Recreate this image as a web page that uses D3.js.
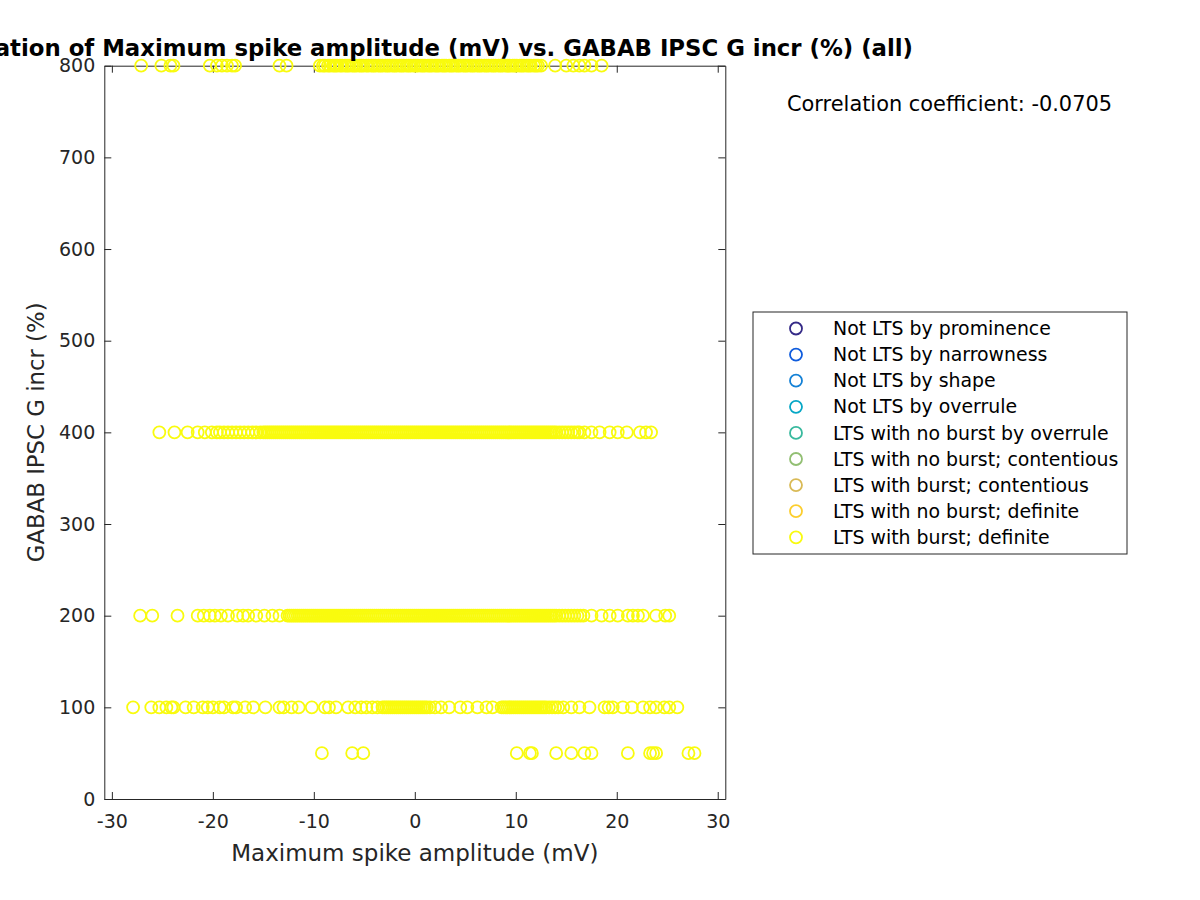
<!DOCTYPE html>
<html><head><meta charset="utf-8">
<script src="https://cdn.jsdelivr.net/npm/d3@7"></script>
<style>body{margin:0;background:#fff}svg{display:block}text{font-family:"DejaVu Sans",sans-serif}</style>
</head><body>
<svg id="c" width="1200" height="900"></svg>
<script>
// ---- data ----
const xTicks = [-30, -20, -10, 0, 10, 20, 30];
const yTicks = [0, 100, 200, 300, 400, 500, 600, 700, 800];
const categories = ["Not LTS by prominence","Not LTS by narrowness","Not LTS by shape","Not LTS by overrule",
  "LTS with no burst by overrule","LTS with no burst; contentious","LTS with burst; contentious",
  "LTS with no burst; definite","LTS with burst; definite"];
const categoryColors = ["#352a87","#0f5cdd","#1481d6","#06a7c6","#38b99e","#92bf73","#d9ba56","#fcce2e","#f9fb0e"];
const yLevels = [800, 400, 200, 100, 50];
const xAt800 = [-27.1,-25.1,-24.2,-23.9,-20.3,-19.6,-19.1,-18.6,-18.1,-17.8,-13.4,-12.7,
 -9.4,-9.1,-8.9,-8.6,-8.4,-8.1,-7.9,-7.7,-7.4,-7.2,-6.9,-6.7,-6.5,-6.2,-6.0,-5.8,-5.5,-5.3,-5.1,-4.8,-4.6,-4.3,-4.1,-3.9,
 -3.6,-3.4,-3.2,-2.9,-2.7,-2.5,-2.2,-2.0,-1.8,-1.5,-1.3,-1.1,-0.8,-0.6,-0.4,-0.1,0.1,0.3,0.6,0.8,1.0,1.3,1.5,1.7,2.0,2.2,
 2.4,2.7,2.9,3.1,3.4,3.6,3.8,4.1,4.3,4.5,4.8,5.0,5.2,5.5,5.7,5.9,6.2,6.4,6.6,6.9,7.1,7.3,7.6,7.8,8.0,8.3,8.5,8.7,9.0,9.2,
 9.4,9.7,9.9,10.1,10.4,10.6,10.8,11.1,11.3,11.5,11.8,12.0,12.2,12.5,
 13.9,15.0,15.7,16.3,16.8,17.5,18.5];
const xAt400 = [-25.3,-23.8,-22.5,-21.5,-20.8,-20.1,-19.6,
 -19.3,-18.9,-18.5,-18.1,-17.7,-17.3,-16.9,-16.5,-16.1,-15.7,-15.3,-15.0,-14.8,-14.6,-14.4,-14.2,-14.0,-13.8,-13.6,-13.4,
 -13.2,-13.0,-12.8,-12.6,-12.4,-12.2,-12.0,-11.8,-11.6,-11.4,-11.2,-11.0,-10.8,-10.6,-10.4,-10.2,-10.0,-9.8,-9.6,-9.4,-9.2,
 -9.0,-8.8,-8.6,-8.4,-8.2,-8.0,-7.8,-7.6,-7.4,-7.2,-7.0,-6.8,-6.6,-6.4,-6.2,-6.0,-5.8,-5.6,-5.4,-5.2,-5.0,-4.8,-4.6,-4.4,
 -4.2,-4.0,-3.8,-3.6,-3.4,-3.2,-3.0,-2.8,-2.6,-2.4,-2.2,-2.0,-1.8,-1.6,-1.4,-1.2,-1.0,-0.8,-0.6,-0.4,-0.2,0.0,0.2,0.4,0.6,
 0.8,1.0,1.2,1.4,1.6,1.8,2.0,2.2,2.4,2.6,2.8,3.0,3.2,3.4,3.6,3.8,4.0,4.2,4.4,4.6,4.8,5.0,5.2,5.4,5.6,5.8,6.0,6.2,6.4,6.6,
 6.8,7.0,7.2,7.4,7.6,7.8,8.0,8.2,8.4,8.6,8.8,9.0,9.2,9.4,9.6,9.8,10.0,10.2,10.4,10.6,10.8,11.0,11.2,11.4,11.6,11.8,12.0,
 12.2,12.4,12.6,12.8,13.0,13.2,13.4,13.6,13.8,14.0,14.3,14.6,14.9,15.2,15.5,15.8,16.1,16.3,
 16.8,17.5,18.3,19.3,20.1,21.0,22.3,22.9,23.4];
const xAt200 = [-27.2,-26.0,-23.5,-21.5,-20.9,-20.3,-19.8,-19.2,-18.5,-17.6,-17.0,-16.5,-15.7,-14.9,-14.1,-13.4,
 -12.6,-12.4,-12.2,-12.0,-11.8,-11.6,-11.4,-11.2,-11.0,-10.8,-10.6,-10.4,-10.2,-10.0,-9.8,-9.6,-9.4,-9.2,-9.0,-8.8,-8.6,
 -8.4,-8.2,-8.0,-7.8,-7.6,-7.4,-7.2,-7.0,-6.8,-6.6,-6.4,-6.2,-6.0,-5.8,-5.6,-5.4,-5.2,-5.0,-4.8,-4.6,-4.4,-4.2,-4.0,-3.8,
 -3.6,-3.4,-3.2,-3.0,-2.8,-2.6,-2.4,-2.2,-2.0,-1.8,-1.6,-1.4,-1.2,-1.0,-0.8,-0.6,-0.4,-0.2,0.0,0.2,0.4,0.6,0.8,1.0,1.2,
 1.4,1.6,1.8,2.0,2.2,2.4,2.6,2.8,3.0,3.2,3.4,3.6,3.8,4.0,4.2,4.4,4.6,4.8,5.0,5.2,5.4,5.6,5.8,6.0,6.2,6.4,6.6,6.8,7.0,7.2,
 7.4,7.6,7.8,8.0,8.2,8.4,8.6,8.8,9.0,9.2,9.4,9.6,9.8,10.0,10.2,10.4,10.6,10.8,11.0,11.2,11.4,11.6,11.8,12.0,12.2,12.4,
 12.6,12.8,13.0,13.2,13.4,13.6,13.8,14.0,14.3,14.6,14.9,15.2,15.5,15.8,16.1,16.4,16.7,
 17.5,18.5,19.3,20.1,21.1,21.6,22.1,22.6,23.9,24.8,25.2];
const xAt100 = [-27.9,-26.1,-25.3,-24.6,-24.1,-23.9,-22.7,-21.9,-21.0,-20.5,-20.0,-19.3,-18.9,-18.0,-17.7,-16.8,-16.0,
 -14.8,-13.4,-13.0,-12.2,-11.5,-10.2,-8.9,-8.5,-7.8,-6.6,-5.9,-5.3,-4.8,-4.2,-3.7,
 -3.2,-3.0,-2.8,-2.6,-2.4,-2.2,-2.0,-1.8,-1.6,-1.4,-1.2,-1.0,-0.8,-0.6,-0.4,-0.2,0.0,0.2,0.4,0.6,0.8,1.0,1.2,1.5,
 2.0,2.6,3.4,4.5,5.2,6.2,7.1,7.7,
 8.6,8.8,9.0,9.2,9.4,9.6,9.8,10.0,10.2,10.4,10.6,10.8,11.0,11.2,11.4,11.6,11.8,12.0,12.2,12.4,12.6,12.8,13.0,13.3,13.6,
 13.9,14.2,14.7,15.5,16.3,17.3,18.8,19.2,19.6,20.6,21.5,22.6,23.3,23.9,24.7,25.2,26.0];
const xAt50 = [-9.2,-6.2,-5.1,10.1,11.4,11.6,14.0,15.5,16.8,17.5,21.1,23.3,23.6,23.9,27.1,27.7];
const corrText = "Correlation coefficient: -0.0705";

// ---- build ----
const rows = [xAt800, xAt400, xAt200, xAt100, xAt50];
const points = [];
rows.forEach((xs, i) => xs.forEach(v => points.push({x: v, y: yLevels[i]})));

const svg = d3.select("#c");
svg.append("rect").attr("width",1200).attr("height",900).attr("fill","#fff");
const L = 104.3, R = 725.3, T = 65.7, B = 799;
const x = d3.scaleLinear().domain([-30.75, 30.75]).range([L, R]);
const y = d3.scaleLinear().domain([0, 800]).range([B, T]);
const axCol = "#262626";
const tl = 7;
const fmt = d => String(d);

svg.append("rect").attr("x",L).attr("y",T).attr("width",R-L).attr("height",B-T).attr("fill","#fff");

function styleAxis(g, showLabels) {
  g.selectAll("path.domain").attr("stroke", axCol).attr("stroke-width",1);
  g.selectAll(".tick line").attr("stroke", axCol).attr("stroke-width",1);
  g.selectAll(".tick text").attr("fill", axCol).style("font-size","19px").style("font-family","DejaVu Sans");
  if (!showLabels) g.selectAll(".tick text").remove();
}
const gB = svg.append("g").attr("transform",`translate(0,${B})`)
  .call(d3.axisBottom(x).tickValues(xTicks).tickSize(-tl).tickSizeOuter(0).tickPadding(16).tickFormat(fmt));
styleAxis(gB, true);
const gT = svg.append("g").attr("transform",`translate(0,${T})`)
  .call(d3.axisTop(x).tickValues(xTicks).tickSize(-tl).tickSizeOuter(0));
styleAxis(gT, false);
const gL = svg.append("g").attr("transform",`translate(${L},0)`)
  .call(d3.axisLeft(y).tickValues(yTicks).tickSize(-tl).tickSizeOuter(0).tickPadding(9).tickFormat(fmt));
styleAxis(gL, true);
const gR = svg.append("g").attr("transform",`translate(${R},0)`)
  .call(d3.axisRight(y).tickValues(yTicks).tickSize(-tl).tickSizeOuter(0));
styleAxis(gR, false);

svg.append("g").selectAll("circle").data(points).join("circle")
  .attr("cx", d => x(d.x)).attr("cy", d => y(d.y)).attr("r", 6)
  .attr("fill","none").attr("stroke", categoryColors[8]).attr("stroke-width",1.8);

// title
svg.append("text").attr("x",(L+R)/2).attr("y",56).attr("text-anchor","middle")
  .style("font-size","22.8px").style("font-weight","bold").attr("fill","#000")
  .text("Correlation of Maximum spike amplitude (mV) vs. GABAB IPSC G incr (%) (all)");
// axis labels
svg.append("text").attr("x",(L+R)/2).attr("y",861).attr("text-anchor","middle")
  .style("font-size","23px").attr("fill",axCol).text("Maximum spike amplitude (mV)");
svg.append("text").attr("transform",`translate(44,${(T+B)/2}) rotate(-90)`).attr("text-anchor","middle")
  .style("font-size","22.8px").attr("fill",axCol).text("GABAB IPSC G incr (%)");
// correlation text
svg.append("text").attr("x",787).attr("y",111).style("font-size","20.9px").attr("fill","#000").text(corrText);

// legend
const lg = svg.append("g");
lg.append("rect").attr("x",753).attr("y",312).attr("width",374).attr("height",242)
  .attr("fill","#fff").attr("stroke",axCol).attr("stroke-width",1);
categories.forEach((c, i) => {
  const cy = 328.5 + i * 26.1;
  lg.append("circle").attr("cx",796).attr("cy",cy).attr("r",6).attr("fill","none")
    .attr("stroke",categoryColors[i]).attr("stroke-width",1.8);
  lg.append("text").attr("x",833).attr("y",cy).attr("dy","0.35em").style("font-size","18.9px")
    .attr("fill","#000").text(c);
});
</script>
</body></html>
